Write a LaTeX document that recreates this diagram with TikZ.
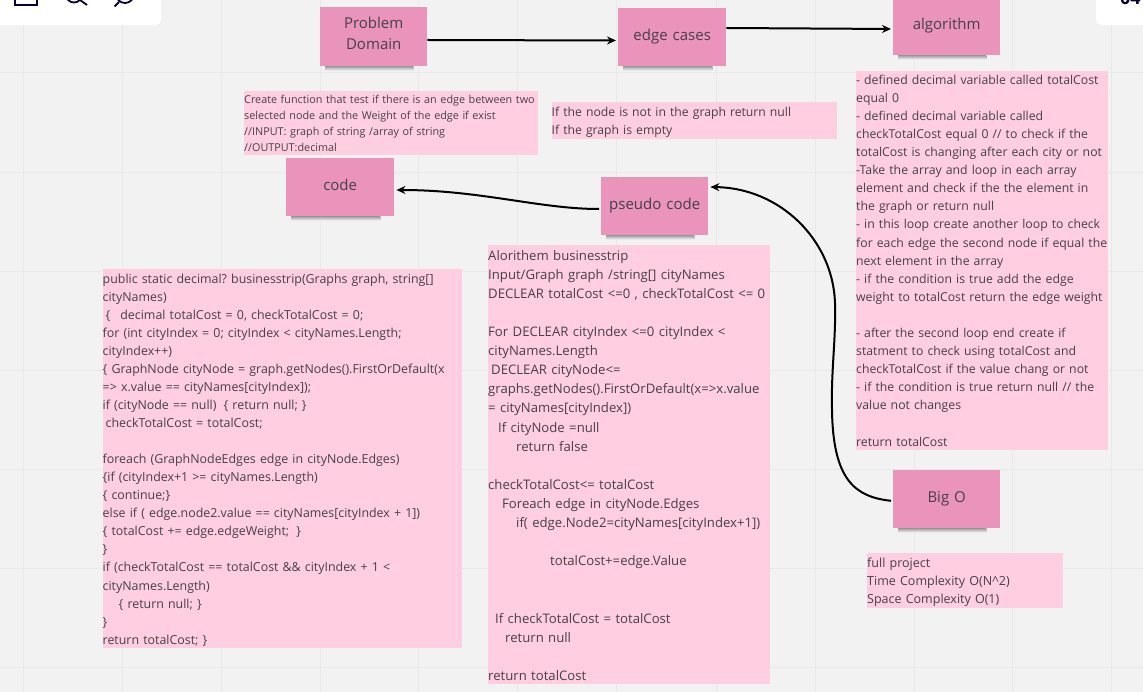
\documentclass[tikz,border=0pt]{standalone}
\usepackage{fontspec}
\setmainfont{Open Sans}
\usetikzlibrary{arrows.meta}
\definecolor{boardgray}{HTML}{F2F2F2}
\definecolor{gridgray}{HTML}{E8E8E8}
\definecolor{stickypink}{HTML}{EA94BB}
\definecolor{notepink}{HTML}{FFCEE0}
\definecolor{inkgray}{HTML}{45404A}
\definecolor{navyink}{HTML}{050038}
\frenchspacing
\tikzset{
    sticky/.style n args={3}{fill=stickypink, text=inkgray, align=center, font=\fontsize{15}{21}\selectfont, inner sep=0pt, anchor=north west, text width=#1pt, text height=#3pt, text depth=#2pt-#3pt},
    note/.style n args={3}{fill=notepink, text=inkgray, align=left, anchor=north west, inner sep=0pt, text width=#1pt, text height=#3pt, text depth=#2pt-#3pt},
    flow/.style={draw=black, line width=2pt, shorten >=2pt, -{Stealth[length=9pt,width=8pt]}},
    panel/.style={fill=white, rounded corners=5pt},
}
\begin{document}
\begin{tikzpicture}[x=1pt, y=-1pt]
        \useasboundingbox (0, 0) rectangle (1143, 692);
        \fill [boardgray] (0, 0) rectangle (1143, 692);
        % grid
        \foreach \gx in {23,122,221,320,418,517,616,716,815,914,1012,1111}
            \draw [gridgray, line width=0.8pt] (\gx, 0) -- (\gx, 692);
        \foreach \gy in {72,172,271,370,469,568,667}
            \draw [gridgray, line width=0.8pt] (0, \gy) -- (1143, \gy);

        % toolbars
        \fill [panel] (-10, -10) rectangle (161, 25);
        \fill [panel] (1096, -10) rectangle (1153, 25);
        \draw [navyink, line width=1.8pt] (15, -2) -- (15, 5) -- (37, 5) -- (37, -2);
        \draw [navyink, line width=1.8pt] (74, -5.5) circle (8);
        \draw [navyink, line width=1.8pt] (80, 0) -- (87, 5);
        \draw [navyink, line width=1.8pt] (125, -6) circle (9);
        \draw [navyink, line width=1.8pt] (119, 2) -- (114.5, 6.5);
        \node (counter) [anchor=base west, text=navyink, inner sep=0pt, font=\fontsize{18}{18}\selectfont\bfseries] at (1120, 5) {04};

        % sticky notes
        \node (domain) [sticky={107}{59}{21}] at (320, 7) {Problem\\Domain};
        \node (cases) [sticky={108}{58}{32}] at (618, 8) {edge cases};
        \node (algorithm) [sticky={107}{56}{30}] at (893, -1) {algorithm};
        \node (code) [sticky={108}{58}{32}] at (286, 158) {code};
        \node (pseudo) [sticky={107}{58}{32}] at (601, 177) {pseudo code};
        \node (bigo) [sticky={107}{58}{32}] at (893, 470) {Big O};
        \foreach \n in {domain,cases,algorithm,code,pseudo,bigo}
            \shade [top color=black!38, bottom color=boardgray] ([xshift=5pt]\n.south west) rectangle ([xshift=-14pt, yshift=-4pt]\n.south east);

        % text blocks
        \node (problemtext) [note={293.5}{64}{12}, font=\fontsize{10.8}{16}\selectfont] at (244, 91) {Create function that test if there is an edge between two\\selected node and the Weight of the edge if exist\\//INPUT: graph of string /array of string\\//OUTPUT:decimal};
        \node (casestext) [note={285}{37}{14}, font=\fontsize{12.2}{18}\selectfont] at (551.5, 102) {If the node is not in the graph return null\\If the graph is empty};
        \node (algotext) [note={252}{379}{13}, font=\fontsize{12.25}{18.1}\selectfont] at (856, 71) {- defined decimal variable called totalCost\\equal 0\\- defined decimal variable called\\checkTotalCost equal 0 // to check if the\\totalCost is changing after each city or not\\-Take the array and loop in each array\\element and check if the the element in\\the graph or return null\\- in this loop create another loop to check\\for each edge the second node if equal the\\next element in the array\\- if the condition is true add the edge\\weight to totalCost return the edge weight\\[\baselineskip]- after the second loop end create if\\statment to check using totalCost and\\checkTotalCost if the value chang or not\\- if the condition is true return null // the\\value not changes\\[\baselineskip]return totalCost};
        \node (codetext) [note={359.5}{379}{14}, font=\fontsize{12.4}{18.05}\selectfont] at (102.5, 269) {public static decimal? businesstrip(Graphs graph, string[]\\cityNames)\\\hspace*{3pt}\{\hspace*{10pt}decimal totalCost = 0, checkTotalCost = 0;\\for (int cityIndex = 0; cityIndex < cityNames.Length;\\cityIndex++)\\\{ GraphNode cityNode = graph.getNodes().FirstOrDefault(x\\=> x.value == cityNames[cityIndex]);\\if (cityNode == null)\hspace*{3pt} \{ return null; \}\\\hspace*{3pt}checkTotalCost = totalCost;\\[\baselineskip]foreach (GraphNodeEdges edge in cityNode.Edges)\\\{if (cityIndex+1 >= cityNames.Length)\\\{ continue;\}\\else if ( edge.node2.value == cityNames[cityIndex + 1])\\\{ totalCost += edge.edgeWeight;\hspace*{3pt} \}\\\}\\if (checkTotalCost == totalCost \&\& cityIndex + 1 <\\cityNames.Length)\\\hspace*{16pt}\{ return null; \}\\\}\\return totalCost; \}};
        \node (pseudotext) [note={282}{439}{15}, font=\fontsize{13.15}{19.1}\selectfont] at (488, 245) {Alorithem businesstrip\\Input/Graph graph /string[] cityNames\\DECLEAR totalCost <=0 , checkTotalCost <= 0\\[\baselineskip]For DECLEAR cityIndex <=0 cityIndex <\\cityNames.Length\\\hspace*{3pt}DECLEAR cityNode<=\\graphs.getNodes().FirstOrDefault(x=>x.value\\= cityNames[cityIndex])\\\hspace*{10pt}If cityNode =null\\\hspace*{28pt}return false\\[\baselineskip]checkTotalCost<= totalCost\\\hspace*{14pt}Foreach edge in cityNode.Edges\\\hspace*{28pt}if( edge.Node2=cityNames[cityIndex+1])\\[\baselineskip]\hspace*{62pt}totalCost+=edge.Value\\[2\baselineskip]\hspace*{7pt}If checkTotalCost = totalCost\\\hspace*{17pt}return null\\[\baselineskip]return totalCost};
        \node (bigotext) [note={196}{55}{14}, font=\fontsize{12.5}{18}\selectfont] at (867, 553) {full project\\Time Complexity O(N\textasciicircum 2)\\Space Complexity O(1)};

        % connectors
        \draw [flow] (domain.east |- 0, 40) -- (cases.west |- 0, 40.5);
        \draw [flow] (cases.east |- 0, 28) -- (algorithm.west |- 0, 29);
        \draw [flow, shorten <=2pt] (pseudo.west |- 0, 209) .. controls (540, 209) and (480, 190) .. (code.east |- 0, 190);
        \draw [flow, shorten <=2pt] (bigo.west |- 0, 501) .. controls (855, 497) and (833, 480) .. (832, 410) .. controls (831, 370) and (836, 340) .. (835, 303) .. controls (833, 240) and (780, 188) .. (pseudo.east |- 0, 187);
\end{tikzpicture}
\end{document}
